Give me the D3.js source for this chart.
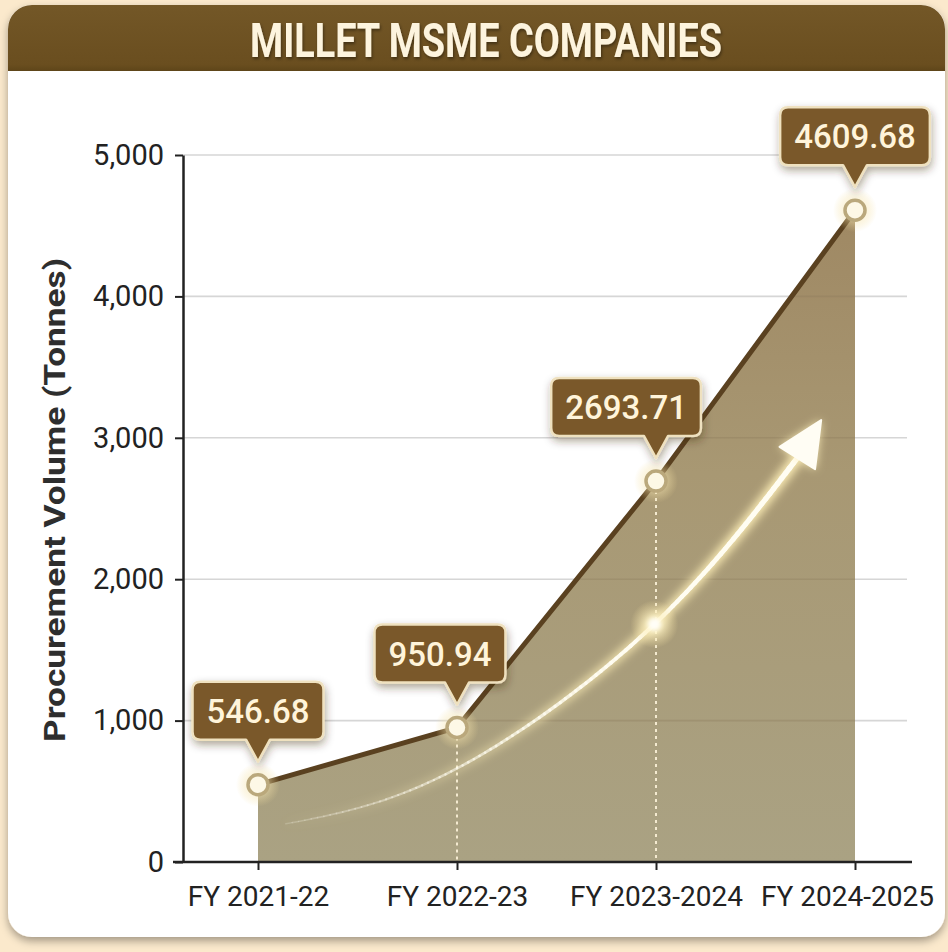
<!DOCTYPE html>
<html>
<head>
<meta charset="utf-8">
<script src="https://cdn.jsdelivr.net/npm/d3@7"></script>
<style>
  html, body { margin: 0; padding: 0; background: #fbe9cc; }
  svg { display: block; }
</style>
</head>
<body>
<svg id="chart" width="948" height="952"></svg>
<script>
// ---- data ----
const categories = ["FY 2021-22", "FY 2022-23", "FY 2023-2024", "FY 2024-2025"];
const procurement = [546.68, 950.94, 2693.71, 4609.68];
const yTicks = [0, 1000, 2000, 3000, 4000, 5000];
const chartTitle = "MILLET MSME COMPANIES";
const yAxisTitle = "Procurement Volume (Tonnes)";
// decorative growth arrow, as (category index, tonnes) pairs
const trendIndex = [0.14, 0.955, 1.96, 2.71];
const trendValue = [270, 629, 1640, 2857];
const trendTip = [2.83, 3125];

// ---- setup ----
const svg = d3.select("#chart");
const defs = svg.append("defs");

const x = d3.scalePoint().domain(categories).range([258, 855]);
const xi = d3.scaleLinear().domain([0, categories.length - 1]).range([258, 855]);
const y = d3.scaleLinear().domain([0, 5000]).range([862, 155]);
const axisLeftX = 183;

const points = categories.map((c, i) => ({ c, i, v: procurement[i] }));

// filters
const cardShadow = defs.append("filter").attr("id", "cardShadow")
  .attr("x", "-5%").attr("y", "-5%").attr("width", "110%").attr("height", "110%");
cardShadow.append("feDropShadow").attr("dx", 0).attr("dy", 4).attr("stdDeviation", 4)
  .attr("flood-color", "#000").attr("flood-opacity", 0.35);

const boxShadow = defs.append("filter").attr("id", "boxShadow")
  .attr("x", "-30%").attr("y", "-30%").attr("width", "160%").attr("height", "170%");
boxShadow.append("feDropShadow").attr("dx", 1).attr("dy", 4).attr("stdDeviation", 4)
  .attr("flood-color", "#3a2a10").attr("flood-opacity", 0.4);

const titleShadow = defs.append("filter").attr("id", "titleShadow");
titleShadow.append("feDropShadow").attr("dx", 1).attr("dy", 2).attr("stdDeviation", 1.5)
  .attr("flood-color", "#000").attr("flood-opacity", 0.4);

const glow = defs.append("filter").attr("id", "glow")
  .attr("x", "-50%").attr("y", "-50%").attr("width", "200%").attr("height", "200%");
glow.append("feGaussianBlur").attr("stdDeviation", 5);

const softGlow = defs.append("filter").attr("id", "softGlow")
  .attr("x", "-50%").attr("y", "-50%").attr("width", "200%").attr("height", "200%");
softGlow.append("feGaussianBlur").attr("stdDeviation", 2);

// gradients
const areaGrad = defs.append("linearGradient").attr("id", "areaGrad")
  .attr("gradientUnits", "userSpaceOnUse")
  .attr("x1", 0).attr("y1", y(5000)).attr("x2", 0).attr("y2", y(0));
[[0, "#9d8560"], [0.45, "#a89873"], [1, "#aaa283"]].forEach(([o, c]) =>
  areaGrad.append("stop").attr("offset", o).attr("stop-color", c));

const headGrad = defs.append("linearGradient").attr("id", "headGrad")
  .attr("x1", 0).attr("y1", 0).attr("x2", 0).attr("y2", 1);
[[0, "#735727"], [0.9, "#6a4e1f"], [1, "#5e4519"]].forEach(([o, c]) =>
  headGrad.append("stop").attr("offset", o).attr("stop-color", c));

const halo = defs.append("radialGradient").attr("id", "halo");
[[0, "#fffbe6", 1], [0.35, "#fff3c4", 0.75], [1, "#f6e2a0", 0]].forEach(([o, c, a]) =>
  halo.append("stop").attr("offset", o).attr("stop-color", c).attr("stop-opacity", a));

const pointHalo = defs.append("radialGradient").attr("id", "pointHalo");
[[0, "#fff6d6", 0.9], [0.5, "#f7e6b0", 0.45], [1, "#f2dc98", 0]].forEach(([o, c, a]) =>
  pointHalo.append("stop").attr("offset", o).attr("stop-color", c).attr("stop-opacity", a));

// ---- card & header ----
const cardX = 8, cardY = 5, cardW = 937, cardH = 932, cardR = 24;
defs.append("clipPath").attr("id", "cardClip")
  .append("rect").attr("x", cardX).attr("y", cardY).attr("width", cardW).attr("height", cardH).attr("rx", cardR);

svg.append("rect").attr("x", cardX).attr("y", cardY).attr("width", cardW).attr("height", cardH)
  .attr("rx", cardR).attr("fill", "#fff").attr("filter", "url(#cardShadow)");

const cardG = svg.append("g").attr("clip-path", "url(#cardClip)");
cardG.append("rect").attr("x", cardX).attr("y", cardY).attr("width", cardW).attr("height", 66)
  .attr("fill", "url(#headGrad)");

svg.append("text")
  .attr("x", 486).attr("y", 57)
  .attr("text-anchor", "middle")
  .attr("font-family", "Roboto, 'Noto Sans', sans-serif")
  .attr("font-weight", 700).attr("font-size", 48)
  .attr("textLength", 472).attr("lengthAdjust", "spacingAndGlyphs")
  .attr("fill", "#fdf4de").attr("filter", "url(#titleShadow)")
  .text(chartTitle);

// ---- grid ----
svg.append("g").selectAll("line").data(yTicks.filter(d => d > 0)).join("line")
  .attr("x1", axisLeftX).attr("x2", 907)
  .attr("y1", d => y(d)).attr("y2", d => y(d))
  .attr("stroke", "#d6d6d6").attr("stroke-width", 1.6);

// ---- area & line ----
const area = d3.area().x(d => x(d.c)).y0(y(0)).y1(d => y(d.v));
const line = d3.line().x(d => x(d.c)).y(d => y(d.v));

svg.append("path").datum(points).attr("d", area).attr("fill", "url(#areaGrad)");

// gridlines faintly visible through the fill
defs.append("clipPath").attr("id", "areaClip").append("path").datum(points).attr("d", area);
svg.append("g").attr("clip-path", "url(#areaClip)")
  .selectAll("line").data(yTicks.filter(d => d > 0)).join("line")
  .attr("x1", axisLeftX).attr("x2", 907)
  .attr("y1", d => y(d)).attr("y2", d => y(d))
  .attr("stroke", "#8c7c5c").attr("stroke-opacity", 0.35).attr("stroke-width", 1.6);

// dotted guides under the interior points
svg.append("g").selectAll("line").data(points.slice(1, -1)).join("line")
  .attr("x1", d => x(d.c)).attr("x2", d => x(d.c))
  .attr("y1", d => y(d.v) + 10).attr("y2", y(0))
  .attr("stroke", "#f4ead0").attr("stroke-width", 2).attr("stroke-dasharray", "3 4");

// ---- glowing growth arrow ----
const trendPts = trendIndex.map((t, k) => [xi(t), y(trendValue[k])]);
const trendLine = d3.line().curve(d3.curveNatural);
const guide = svg.append("path").attr("d", trendLine(trendPts)).attr("fill", "none").attr("stroke", "none");
const totalLen = guide.node().getTotalLength();
const N = 100;
const samples = d3.range(N + 1).map(k => guide.node().getPointAtLength(totalLen * k / N));

const arrowG = svg.append("g");
// soft golden glow
const glowG = arrowG.append("g").attr("filter", "url(#glow)");
d3.pairs(samples).forEach(([a, b], k) => {
  const t = k / N;
  glowG.append("line").attr("x1", a.x).attr("y1", a.y).attr("x2", b.x).attr("y2", b.y)
    .attr("stroke", "#fff0b8").attr("stroke-linecap", "round")
    .attr("stroke-width", 3 + 9 * t).attr("stroke-opacity", Math.min(1, 0.05 + t * 1.1));
});
// bright core
d3.pairs(samples).forEach(([a, b], k) => {
  const t = k / N;
  arrowG.append("line").attr("x1", a.x).attr("y1", a.y).attr("x2", b.x).attr("y2", b.y)
    .attr("stroke", "#fffdf2").attr("stroke-linecap", "round")
    .attr("stroke-width", 1.5 + 4 * t).attr("stroke-opacity", Math.min(1, 0.2 + t * 1.3));
});
// arrow head
const base = trendPts[trendPts.length - 1];
const tip = [xi(trendTip[0]), y(trendTip[1])];
const dx = tip[0] - base[0], dy = tip[1] - base[1];
const len = Math.hypot(dx, dy);
const nx = -dy / len, ny = dx / len, hw = 21;
const headPts = [tip, [base[0] + nx * hw, base[1] + ny * hw], [base[0] - nx * hw, base[1] - ny * hw]];
arrowG.append("polygon").attr("points", headPts.map(p => p.join(",")).join(" "))
  .attr("fill", "#fff2bd").attr("filter", "url(#glow)");
arrowG.append("polygon").attr("points", headPts.map(p => p.join(",")).join(" "))
  .attr("fill", "#fffdf4").attr("stroke", "#fffdf4").attr("stroke-width", 2).attr("stroke-linejoin", "round");

// sparkle where the arrow crosses the FY 2023-2024 guide
const sx = x(categories[2]);
let spark = samples[0];
samples.forEach(p => { if (Math.abs(p.x - sx) < Math.abs(spark.x - sx)) spark = p; });
arrowG.append("circle").attr("cx", spark.x).attr("cy", spark.y).attr("r", 24).attr("fill", "url(#halo)");
arrowG.append("circle").attr("cx", spark.x).attr("cy", spark.y).attr("r", 6).attr("fill", "#fffef8").attr("filter", "url(#softGlow)");

// ---- main line ----
svg.append("path").datum(points).attr("d", line)
  .attr("fill", "none").attr("stroke", "#5a4120").attr("stroke-width", 5)
  .attr("stroke-linejoin", "round");

// ---- axes ----
const yAxis = d3.axisLeft(y).tickValues(yTicks).tickFormat(d3.format(",")).tickSize(8).tickSizeOuter(0).tickPadding(11);
const gy = svg.append("g").attr("transform", `translate(${axisLeftX},0)`).call(yAxis);
gy.select(".domain").attr("stroke", "#222").attr("stroke-width", 2.5);
gy.selectAll(".tick line").attr("stroke", "#222").attr("stroke-width", 2);
gy.selectAll(".tick text").attr("font-family", "Roboto, sans-serif").attr("font-size", 29).attr("fill", "#222");

svg.append("line").attr("x1", 173).attr("x2", 912).attr("y1", y(0)).attr("y2", y(0))
  .attr("stroke", "#222").attr("stroke-width", 2.5);

const xAxis = d3.axisBottom(x).tickSize(8).tickSizeOuter(0).tickPadding(16);
const gx = svg.append("g").attr("transform", `translate(0,${y(0)})`).call(xAxis);
gx.select(".domain").remove();
gx.selectAll(".tick line").attr("stroke", "#222").attr("stroke-width", 2);
gx.selectAll(".tick text").attr("font-family", "Roboto, sans-serif").attr("font-size", 28).attr("fill", "#222");
// keep the last label inside the card
gx.selectAll(".tick text").filter((d, i, n) => i === n.length - 1).attr("dx", -8);

// y axis title
svg.append("text")
  .attr("transform", "translate(65,500) rotate(-90)")
  .attr("text-anchor", "middle")
  .attr("font-family", "Roboto, 'Noto Sans', sans-serif")
  .attr("font-weight", 700).attr("font-size", 29)
  .attr("textLength", 484).attr("lengthAdjust", "spacingAndGlyphs")
  .attr("fill", "#2e2e2e")
  .text(yAxisTitle);

// ---- points ----
const ptG = svg.append("g");
ptG.selectAll("circle.halo").data(points).join("circle").attr("class", "halo")
  .attr("cx", d => x(d.c)).attr("cy", d => y(d.v)).attr("r", 22).attr("fill", "url(#pointHalo)");
ptG.selectAll("circle.dot").data(points).join("circle").attr("class", "dot")
  .attr("cx", d => x(d.c)).attr("cy", d => y(d.v)).attr("r", 10)
  .attr("fill", "#fdf8e6").attr("stroke", "#baa87c").attr("stroke-width", 3.5);

// ---- value callouts ----
const pointerAt = [0.5, 0.63, 0.7, 0.5]; // where the pointer sits along each box
const boxH = 58, gap = 23, ptrH = 22, ptrW = 12, boxR = 8;
const labels = svg.append("g");
points.forEach((d, k) => {
  const g = labels.append("g");
  const txt = g.append("text")
    .attr("font-family", "Roboto, sans-serif").attr("font-size", 33).attr("font-weight", 500)
    .attr("fill", "#fff4da").attr("text-anchor", "middle")
    .text(d3.format(".2f")(d.v));
  const tw = txt.node().getComputedTextLength();
  const bw = tw + 28;
  const ax = bw * pointerAt[k];
  const px = x(d.c), py = y(d.v);
  const left = px - ax, top = py - gap - ptrH - boxH;
  const p = `M${boxR},0 H${bw - boxR} Q${bw},0 ${bw},${boxR} V${boxH - boxR} Q${bw},${boxH} ${bw - boxR},${boxH}
    H${ax + ptrW} L${ax},${boxH + ptrH} L${ax - ptrW},${boxH} H${boxR} Q0,${boxH} 0,${boxH - boxR} V${boxR} Q0,0 ${boxR},0 Z`;
  g.attr("transform", `translate(${left},${top})`);
  g.insert("path", "text").attr("d", p)
    .attr("fill", "#7a592a").attr("stroke", "#efe1bf").attr("stroke-width", 2.5)
    .attr("stroke-linejoin", "round").attr("filter", "url(#boxShadow)");
  txt.attr("x", bw / 2).attr("y", boxH / 2 + 12);
});
</script>
</body>
</html>
